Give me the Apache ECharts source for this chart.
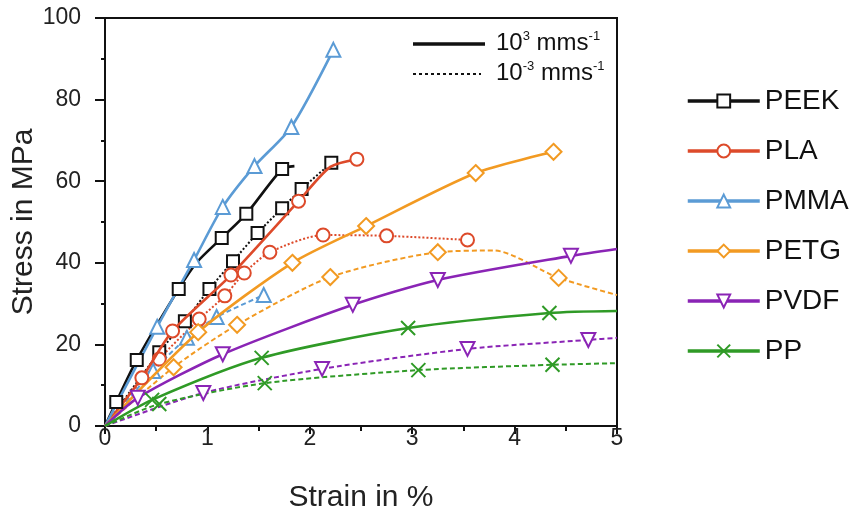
<!DOCTYPE html>
<html>
<head>
<meta charset="utf-8">
<title>Stress-strain</title>
<style>
  html, body, #chart { width: 854px; height: 515px; margin: 0; overflow: hidden; background: #fff; }
</style>
</head>
<body>
<div id="chart"></div>
<script src="https://cdn.jsdelivr.net/npm/echarts@6/dist/echarts.min.js"></script>
<script>
// [strain %, stress MPa, marker shown?]  fast = 10^3 mm/s (solid), slow = 10^-3 mm/s (dashed)
var peekFast = [[0,0,0],[0.11,5.9,1],[0.31,16.2,1],[0.72,33.6,1],[0.9,40.2,0],[1.14,46.1,1],[1.38,52.0,1],[1.73,63.0,1],[1.85,63.7,0]];
var peekSlow = [[0,0,0],[0.53,18.1,1],[0.78,25.7,1],[1.02,33.6,1],[1.25,40.4,1],[1.49,47.3,1],[1.73,53.4,1],[1.92,58.1,1],[2.21,64.5,1]];
var plaFast  = [[0,0,0],[0.36,11.8,1],[0.66,23.3,1],[1.23,37.0,1],[1.89,55.1,1],[2.2,63.5,0],[2.46,65.4,1]];
var plaSlow  = [[0,0,0],[0.53,16.4,1],[0.92,26.2,1],[1.17,31.9,1],[1.36,37.5,1],[1.61,42.6,1],[2.13,46.8,1],[2.75,46.6,1],[3.54,45.6,1]];
var pmmaFast = [[0,0,0],[0.51,24.3,1],[0.87,40.7,1],[1.15,53.7,1],[1.46,63.7,1],[1.82,73.3,1],[2.23,92.2,1]];
var pmmaSlow = [[0,0,0],[0.47,13.5,1],[0.80,21.6,1],[1.09,26.7,1],[1.55,32.1,1]];
var petgFast = [[0,0,0],[0.91,23.0,1],[1.83,40.0,1],[2.55,49.0,1],[3.62,62.0,1],[4.38,67.2,1]];
var petgSlow = [[0,0,0],[0.67,14.4,1],[1.29,24.8,1],[2.20,36.5,1],[3.25,42.6,1],[3.8,43.0,0],[4.43,36.3,1],[5,32.1,0]];
var pvdfFast = [[0,0,0],[0.32,6.9,1],[1.15,17.6,1],[2.42,29.7,1],[3.25,35.8,1],[4.55,41.7,1],[5,43.4,0]];
var pvdfSlow = [[0,0,0],[0.96,8.1,1],[2.12,14.0,1],[3.54,18.9,1],[4.72,21.1,1],[5,21.6,0]];
var ppFast   = [[0,0,0],[0.46,6.4,1],[1.53,16.7,1],[2.96,24.0,1],[4.34,27.7,1],[5,28.2,0]];
var ppSlow   = [[0,0,0],[0.53,5.4,1],[1.56,10.5,1],[3.06,13.7,1],[4.37,15.0,1],[5,15.4,0]];

var materials = ['PEEK', 'PLA', 'PMMA', 'PETG', 'PVDF', 'PP'];
var colors = ['#111111', '#dd4a2a', '#5b9bd5', '#f29a22', '#8a24b5', '#2f9a26'];
var symbols = ['rect', 'circle', 'triangle', 'diamond', 'path://M0,0L10,0L5,9Z', 'path://M0,0L10,10M10,0L0,10'];
var sizes = [12, 13, 14, 16, 14, 14];
var fast = [peekFast, plaFast, pmmaFast, petgFast, pvdfFast, ppFast];
var slow = [peekSlow, plaSlow, pmmaSlow, petgSlow, pvdfSlow, ppSlow];
var slowDash = [[2, 2], [2, 2], [5, 3], [5, 3], [5, 3], [5, 3]];

var FONT = 'Liberation Sans, Arial, sans-serif';

function toData(pts) {
    return pts.map(function (p) {
        return p[2] ? { value: [p[0], p[1]] } : { value: [p[0], p[1]], symbol: 'none' };
    });
}

var series = [];
materials.forEach(function (name, i) {
    var base = {
        name: name,
        type: 'line',
        smooth: 0.25,
        symbol: symbols[i],
        symbolSize: sizes[i],
        showAllSymbol: true,
        itemStyle: { color: '#fff', borderColor: colors[i], borderWidth: 2 },
        emphasis: { disabled: true },
        animation: false
    };
    series.push(Object.assign({}, base, {
        data: toData(fast[i]),
        lineStyle: { color: colors[i], width: 2.6 },
        z: 3
    }));
    series.push(Object.assign({}, base, {
        data: toData(slow[i]),
        lineStyle: { color: colors[i], width: 2, type: slowDash[i] },
        z: 2
    }));
});

var supRich = {
    a: { fontSize: 24, fontFamily: FONT, fill: '#111', lineHeight: 26 },
    b: { fontSize: 13, fontFamily: FONT, fill: '#111', verticalAlign: 'top', lineHeight: 26 }
};

var chart = echarts.init(document.getElementById('chart'));
chart.setOption({
    backgroundColor: '#fff',
    animation: false,
    textStyle: { fontFamily: FONT },
    grid: {
        left: 105, right: 237, top: 18, bottom: 89,
        outerBoundsMode: 'none',
        show: true, borderColor: '#111', borderWidth: 2, backgroundColor: 'transparent'
    },
    xAxis: {
        type: 'value', min: 0, max: 5, interval: 1,
        name: 'Strain in %', nameLocation: 'middle', nameGap: 57,
        nameMoveOverlap: false,
        nameTextStyle: { fontSize: 30, color: '#222', fontFamily: FONT },
        axisLine: { lineStyle: { color: '#111', width: 2 } },
        axisTick: { length: 8, lineStyle: { color: '#111', width: 2 } },
        minorTick: { show: true, splitNumber: 2, length: 5, lineStyle: { color: '#111', width: 2 } },
        axisLabel: { fontSize: 23, color: '#222', margin: 1, fontFamily: FONT },
        splitLine: { show: false }
    },
    yAxis: {
        type: 'value', min: 0, max: 100, interval: 20,
        name: 'Stress in MPa', nameLocation: 'middle', nameGap: 66,
        nameMoveOverlap: false,
        nameTextStyle: { fontSize: 30, color: '#222', fontFamily: FONT },
        axisLine: { lineStyle: { color: '#111', width: 2 } },
        axisTick: { length: 10, lineStyle: { color: '#111', width: 2 } },
        minorTick: { show: true, splitNumber: 2, length: 4, lineStyle: { color: '#111', width: 2 } },
        axisLabel: { fontSize: 23, color: '#222', margin: 24, fontFamily: FONT },
        splitLine: { show: false }
    },
    legend: {
        data: materials,
        orient: 'vertical',
        left: 681, top: 81,
        itemWidth: 72, itemHeight: 16,
        itemGap: 20,
        selectedMode: false,
        lineStyle: { width: 3.5 },
        textStyle: { fontSize: 28, lineHeight: 30, color: '#111', fontFamily: FONT }
    },
    graphic: [
        { type: 'line', shape: { x1: 413, y1: 44, x2: 485, y2: 44 }, style: { stroke: '#111', lineWidth: 3.5 } },
        { type: 'line', shape: { x1: 413, y1: 74, x2: 481, y2: 74 }, style: { stroke: '#111', lineWidth: 2, lineDash: [3, 3] } },
        { type: 'text', left: 496, top: 30, style: { text: '{a|10}{b|3}{a| mms}{b|-1}', rich: supRich } },
        { type: 'text', left: 496, top: 60, style: { text: '{a|10}{b|-3}{a| mms}{b|-1}', rich: supRich } }
    ],
    series: series
});
</script>
</body>
</html>
